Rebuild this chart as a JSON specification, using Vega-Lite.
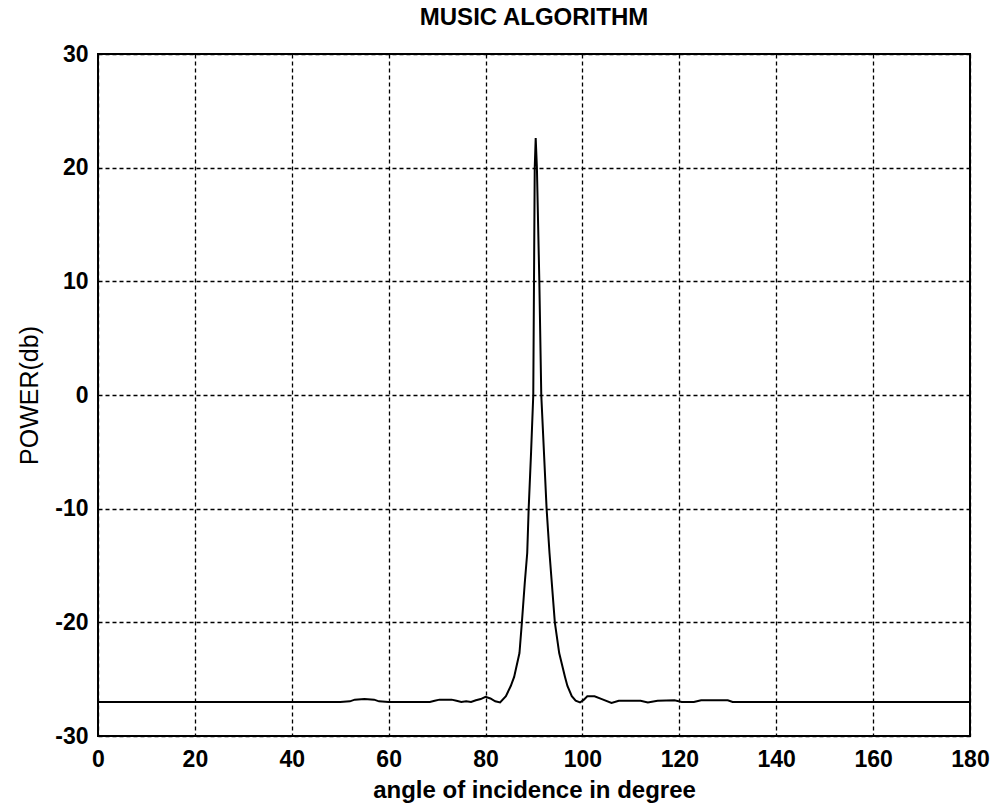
{
  "$schema": "https://vega.github.io/schema/vega-lite/v6.json",
  "width": 872,
  "height": 682,
  "padding": {"left": 98, "top": 54, "right": 27, "bottom": 75},
  "autosize": {"type": "none"},
  "background": "white",
  "title": {
    "text": "MUSIC ALGORITHM",
    "font": "Liberation Sans",
    "fontSize": 24,
    "fontWeight": "bold",
    "color": "black",
    "offset": 13,
    "anchor": "middle"
  },
  "config": {
    "view": {"stroke": "black", "strokeWidth": 2},
    "axis": {
      "domain": false,
      "ticks": false,
      "grid": true,
      "gridColor": "black",
      "gridOpacity": 1,
      "gridWidth": 1.3,
      "gridDash": [4, 3],
      "labelFont": "Liberation Sans",
      "labelFontSize": 23,
      "labelFontWeight": "bold",
      "labelColor": "black",
      "titleFont": "Liberation Sans",
      "titleColor": "black"
    }
  },
  "data": {
    "values": [
      {"angle": 0, "power": -27.0},
      {"angle": 10, "power": -27.0},
      {"angle": 20, "power": -27.0},
      {"angle": 30, "power": -27.0},
      {"angle": 40, "power": -27.0},
      {"angle": 50, "power": -27.0},
      {"angle": 52, "power": -26.95},
      {"angle": 53, "power": -26.8},
      {"angle": 55, "power": -26.75},
      {"angle": 57, "power": -26.8},
      {"angle": 58, "power": -26.95},
      {"angle": 60, "power": -27.0},
      {"angle": 65, "power": -27.0},
      {"angle": 68.5, "power": -27.0},
      {"angle": 69.5, "power": -26.9},
      {"angle": 70.5, "power": -26.8},
      {"angle": 73, "power": -26.8},
      {"angle": 74, "power": -26.9},
      {"angle": 75, "power": -27.0},
      {"angle": 76, "power": -26.95},
      {"angle": 77, "power": -27.0},
      {"angle": 78, "power": -26.85},
      {"angle": 79, "power": -26.75},
      {"angle": 80, "power": -26.55},
      {"angle": 81, "power": -26.7},
      {"angle": 82, "power": -26.95},
      {"angle": 83, "power": -27.05},
      {"angle": 84.2, "power": -26.5},
      {"angle": 85.2, "power": -25.6},
      {"angle": 85.9, "power": -24.8},
      {"angle": 87.0, "power": -22.7},
      {"angle": 87.5, "power": -20.0},
      {"angle": 88.1, "power": -16.5},
      {"angle": 88.6, "power": -13.9},
      {"angle": 88.9, "power": -10.0},
      {"angle": 89.4, "power": -5.0},
      {"angle": 89.85, "power": 0.0},
      {"angle": 90.0, "power": 10.0},
      {"angle": 90.15, "power": 20.0},
      {"angle": 90.35, "power": 22.6},
      {"angle": 90.6, "power": 20.0},
      {"angle": 91.1, "power": 10.0},
      {"angle": 91.5, "power": 0.0},
      {"angle": 92.6, "power": -10.0},
      {"angle": 93.2, "power": -13.9},
      {"angle": 94.3, "power": -20.0},
      {"angle": 95.2, "power": -22.7},
      {"angle": 96.4, "power": -24.8},
      {"angle": 96.9, "power": -25.6},
      {"angle": 97.8, "power": -26.5},
      {"angle": 98.6, "power": -26.9},
      {"angle": 99.5, "power": -27.05},
      {"angle": 100.3, "power": -26.8},
      {"angle": 101, "power": -26.5},
      {"angle": 102.5, "power": -26.5},
      {"angle": 104, "power": -26.75},
      {"angle": 106, "power": -27.1},
      {"angle": 107.5, "power": -26.9},
      {"angle": 112, "power": -26.9},
      {"angle": 113.5, "power": -27.05},
      {"angle": 115.5, "power": -26.9},
      {"angle": 119, "power": -26.85},
      {"angle": 120.5, "power": -27.0},
      {"angle": 123, "power": -27.0},
      {"angle": 124.5, "power": -26.85},
      {"angle": 130, "power": -26.85},
      {"angle": 131, "power": -27.0},
      {"angle": 140, "power": -27.0},
      {"angle": 150, "power": -27.0},
      {"angle": 160, "power": -27.0},
      {"angle": 170, "power": -27.0},
      {"angle": 180, "power": -27.0}
    ]
  },
  "mark": {"type": "line", "color": "black", "strokeWidth": 2, "interpolate": "linear"},
  "encoding": {
    "x": {
      "field": "angle",
      "type": "quantitative",
      "scale": {"domain": [0, 180], "nice": false, "zero": false},
      "axis": {
        "values": [0, 20, 40, 60, 80, 100, 120, 140, 160, 180],
        "title": "angle of incidence in degree",
        "titleFontSize": 24,
        "titleFontWeight": "bold",
        "titlePadding": 7,
        "labelPadding": 12,
        "labelFlush": false
      }
    },
    "y": {
      "field": "power",
      "type": "quantitative",
      "scale": {"domain": [-30, 30], "nice": false, "zero": false},
      "axis": {
        "values": [-30, -20, -10, 0, 10, 20, 30],
        "labelExpr": "toString(datum.value)",
        "title": "POWER(db)",
        "titleFontSize": 25,
        "titleFontWeight": "normal",
        "titlePadding": 12,
        "labelPadding": 10,
        "labelFlush": false
      }
    }
  }
}
